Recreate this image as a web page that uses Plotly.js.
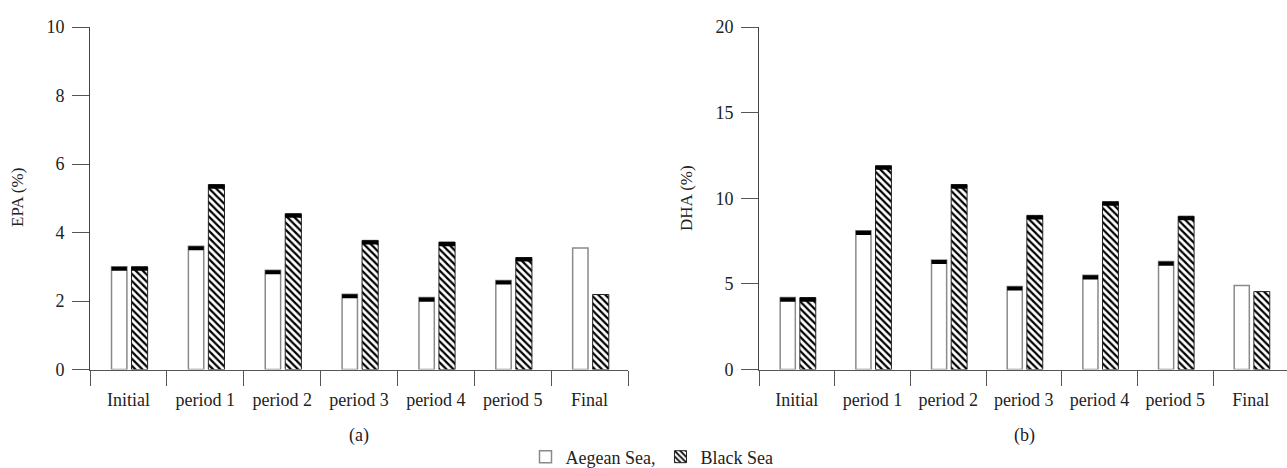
<!DOCTYPE html>
<html>
<head>
<meta charset="utf-8">
<script src="https://cdn.plot.ly/plotly-3.0.1.min.js"></script>
<style>
  html, body { margin: 0; padding: 0; background: #fff; }
  #chart { width: 1287px; height: 468px; }
</style>
</head>
<body>
<div id="chart"></div>
<script>
// ---- data ----
const categories = ['Initial', 'period 1', 'period 2', 'period 3', 'period 4', 'period 5', 'Final'];
const epaAegean = [3.0, 3.6, 2.9, 2.2, 2.1, 2.6, 3.55];
const epaBlack  = [3.0, 5.4, 4.55, 3.77, 3.72, 3.27, 2.19];
const dhaAegean = [4.2, 8.1, 6.4, 4.85, 5.5, 6.3, 4.9];
const dhaBlack  = [4.2, 11.9, 10.8, 9.0, 9.8, 8.95, 4.55];
const hasCap    = [true, true, true, true, true, true, false];
const seriesNames = ['Aegean Sea,', 'Black Sea'];
const epaTicks = [0, 2, 4, 6, 8, 10];
const dhaTicks = [0, 5, 10, 15, 20];

// ---- style ----
const FONT = 'Liberation Serif';
const A_OFF = -0.22, A_W = 0.2;
const B_OFF = 0.04,  B_W = 0.21;

function barsFor(aVals, bVals, xa, ya, capT, showLeg) {
  const aeg = {
    type: 'bar', x: categories, y: aVals, xaxis: xa, yaxis: ya,
    name: seriesNames[0], showlegend: showLeg, legendgroup: 'a',
    offset: A_OFF, width: A_W,
    marker: { color: '#ffffff', line: { color: '#8a8a8a', width: 1.5 } },
    hoverinfo: 'x+y'
  };
  const blk = {
    type: 'bar', x: categories, y: bVals, xaxis: xa, yaxis: ya,
    name: seriesNames[1], showlegend: showLeg, legendgroup: 'b',
    offset: B_OFF, width: B_W,
    marker: {
      color: '#ffffff',
      line: { color: '#222', width: 1 },
      pattern: { shape: '\\', fgcolor: '#000', bgcolor: '#fff', size: 5, solidity: 0.45 }
    },
    hoverinfo: 'x+y'
  };
  const capA = {
    type: 'bar', x: categories, xaxis: xa, yaxis: ya, showlegend: false,
    y: aVals.map((v, i) => hasCap[i] ? capT : null),
    base: aVals.map((v, i) => hasCap[i] ? v - capT : null),
    offset: A_OFF, width: A_W,
    marker: { color: '#000', line: { width: 0 } }, hoverinfo: 'skip'
  };
  const capB = {
    type: 'bar', x: categories, xaxis: xa, yaxis: ya, showlegend: false,
    y: bVals.map((v, i) => hasCap[i] ? capT : null),
    base: bVals.map((v, i) => hasCap[i] ? v - capT : null),
    offset: B_OFF, width: B_W,
    marker: { color: '#000', line: { width: 0 } }, hoverinfo: 'skip'
  };
  return [aeg, blk, capA, capB];
}

const traces = [
  ...barsFor(epaAegean, epaBlack, 'x', 'y', 0.12, true),
  ...barsFor(dhaAegean, dhaBlack, 'x2', 'y2', 0.24, false)
];

const W = 1287, H = 468;
const yBottom = (H - 369.5) / H, yTop = (H - 27) / H;

const xAxisBase = {
  type: 'category', tickson: 'boundaries', ticks: 'outside', ticklen: 15,
  tickcolor: '#555', tickwidth: 1, showline: true, linecolor: '#555', linewidth: 1,
  showgrid: false, zeroline: false, fixedrange: true, ticklabelstandoff: 14,
  automargin: false,
  tickfont: { family: FONT, size: 18, color: '#222' }
};
const yAxisBase = {
  ticks: 'outside', ticklen: 17, tickcolor: '#555', tickwidth: 1,
  showline: true, linecolor: '#444', linewidth: 1, showgrid: false, zeroline: false,
  domain: [yBottom, yTop], ticklabelstandoff: 4, automargin: false,
  tickfont: { family: FONT, size: 18, color: '#222' }
};

const layout = {
  width: W, height: H,
  margin: { l: 0, r: 0, t: 0, b: 0, autoexpand: false },
  paper_bgcolor: '#fff', plot_bgcolor: '#fff',
  font: { family: FONT, size: 18, color: '#222' },
  barmode: 'overlay',
  showlegend: true,
  legend: {
    orientation: 'h', x: 652 / W, xanchor: 'center', y: (H - 457) / H, yanchor: 'middle',
    font: { family: FONT, size: 18, color: '#222' }, traceorder: 'normal',
    itemwidth: 30, bgcolor: 'rgba(0,0,0,0)'
  },
  xaxis: Object.assign({}, xAxisBase, { domain: [90 / W, 628 / W], anchor: 'y', range: [-0.5, 6.5] }),
  yaxis: Object.assign({}, yAxisBase, { anchor: 'x', range: [0, 10], tickvals: epaTicks }),
  xaxis2: Object.assign({}, xAxisBase, { domain: [759 / W, 1], anchor: 'y2', range: [-0.5, 6.478] }),
  yaxis2: Object.assign({}, yAxisBase, { anchor: 'x2', range: [0, 20], tickvals: dhaTicks }),
  annotations: [
    { text: 'EPA (%)', xref: 'paper', yref: 'paper', x: 17 / W, y: (H - 198) / H,
      xanchor: 'center', yanchor: 'middle',
      textangle: -90, showarrow: false, font: { family: FONT, size: 17, color: '#222' } },
    { text: 'DHA (%)', xref: 'paper', yref: 'paper', x: 686 / W, y: (H - 198) / H,
      xanchor: 'center', yanchor: 'middle',
      textangle: -90, showarrow: false, font: { family: FONT, size: 17, color: '#222' } },
    { text: '(a)', xref: 'paper', yref: 'paper', x: 359 / W, y: (H - 435) / H,
      xanchor: 'center', yanchor: 'middle',
      showarrow: false, font: { family: FONT, size: 18, color: '#222' } },
    { text: '(b)', xref: 'paper', yref: 'paper', x: 1024 / W, y: (H - 435) / H,
      xanchor: 'center', yanchor: 'middle',
      showarrow: false, font: { family: FONT, size: 18, color: '#222' } }
  ]
};

Plotly.newPlot('chart', traces, layout, { displayModeBar: false, staticPlot: true });
</script>
</body>
</html>
